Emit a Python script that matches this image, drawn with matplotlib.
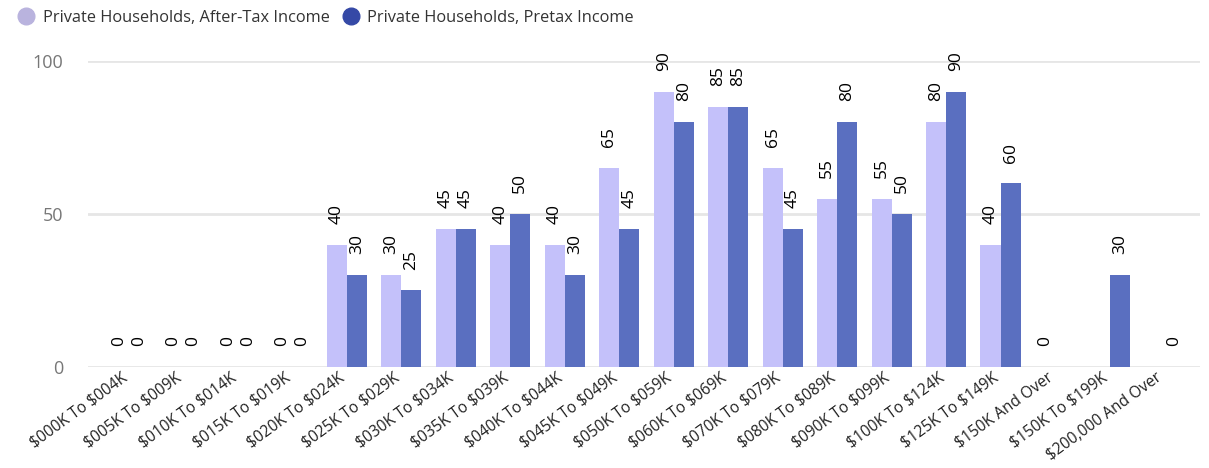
import numpy as np
import matplotlib
matplotlib.use("Agg")
import matplotlib.pyplot as plt
from matplotlib.lines import Line2D
from matplotlib.transforms import ScaledTranslation

categories = [
    "$000K To $004K", "$005K To $009K", "$010K To $014K", "$015K To $019K",
    "$020K To $024K", "$025K To $029K", "$030K To $034K", "$035K To $039K",
    "$040K To $044K", "$045K To $049K", "$050K To $059K", "$060K To $069K",
    "$070K To $079K", "$080K To $089K", "$090K To $099K", "$100K To $124K",
    "$125K To $149K", "$150K And Over", "$150K To $199K", "$200,000 And Over",
]
after_tax = [0, 0, 0, 0, 40, 30, 45, 40, 40, 65, 90, 85, 65, 55, 55, 80, 40, 0, None, None]
pretax = [0, 0, 0, 0, 30, 25, 45, 50, 30, 45, 80, 85, 45, 80, 50, 90, 60, None, 30, 0]
series_names = ["Private Households, After-Tax Income", "Private Households, Pretax Income"]

plt.rcParams['font.family'] = ['Open Sans', 'DejaVu Sans']
plt.rcParams['text.parse_math'] = False

c_light = "#C4C1FA"
c_dark = "#5A6FC0"
leg_light = "#B9B3DE"
leg_dark = "#3549A6"

fig = plt.figure(figsize=(12.09, 4.68), dpi=100)
ax = fig.add_axes([0.0728, 0.2158, 0.9198, 0.6539])

x = np.arange(len(categories))
w = 0.37

def draw(vals, off, color):
    v = np.array([np.nan if a is None else a for a in vals], dtype=float)
    ax.bar(x + off, v, width=w, color=color, zorder=3)
    for xi, vi in zip(x, v):
        if np.isnan(vi):
            continue
        ax.annotate(f"{vi:.0f}", (xi + off, vi), xytext=(0, 15), textcoords="offset points",
                    rotation=90, ha="center", va="bottom", fontsize=12.5, color="black",
                    annotation_clip=False)

draw(after_tax, -w / 2, c_light)
draw(pretax, w / 2, c_dark)

ax.set_xlim(-0.75, 19.66)
ax.set_ylim(0, 100)
ax.set_yticks([0, 50, 100])
ax.yaxis.grid(True, color="#E6E6E6", linewidth=2, zorder=0)
ax.set_axisbelow(True)
for s in ax.spines.values():
    s.set_visible(False)
ax.tick_params(axis="y", length=0, labelsize=13, labelcolor="#777777", pad=18)
ax.tick_params(axis="x", length=0, pad=2)
ax.set_xticks(x)
ax.set_xticklabels(categories, rotation=36, ha="right", rotation_mode="anchor",
                   fontsize=11.2, color="#222222")
shift = ScaledTranslation(-6 / 72, 0, fig.dpi_scale_trans)
for lbl in ax.get_xticklabels():
    lbl.set_transform(lbl.get_transform() + shift)

handles = [Line2D([], [], marker="o", linestyle="", markersize=12, color=leg_light),
           Line2D([], [], marker="o", linestyle="", markersize=12, color=leg_dark)]
fig.legend(handles, series_names, loc="upper left", bbox_to_anchor=(0.0, 1.0),
           ncol=2, frameon=False, fontsize=11.8, handletextpad=0.0, columnspacing=0.3,
           borderaxespad=0.2, labelcolor="#333333")

fig.savefig("out.png", dpi=100)
